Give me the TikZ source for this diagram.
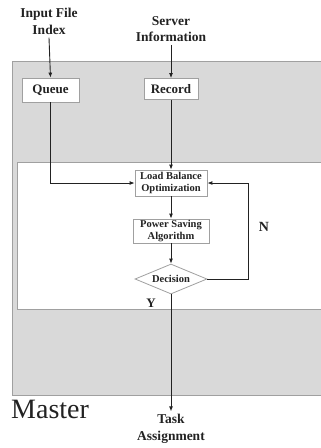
\documentclass[tikz,border=0pt]{standalone}
\usepackage{fontspec}
\setmainfont{Liberation Serif}
\usetikzlibrary{shapes.geometric,arrows.meta}
\definecolor{panel}{HTML}{D9D9D9}
\definecolor{edge}{HTML}{A0A0A0}
\definecolor{ink}{HTML}{222222}
\begin{document}
\begin{tikzpicture}[x=1pt,y=-1pt,
  lbl/.style={font=\fontsize{13.5}{16.5}\selectfont\bfseries,align=center,inner sep=3pt,text=ink},
  bigbox/.style={draw=edge,fill=white,line width=0.8pt,inner sep=0pt,font=\fontsize{13}{15}\selectfont\bfseries,text=ink},
  smallbox/.style={draw=edge,fill=white,line width=0.8pt,inner sep=0pt,align=center,font=\fontsize{10.5}{12.5}\selectfont\bfseries,text=ink},
  conn/.style={draw=ink,line width=0.9pt},
  arr/.style={conn,-{Latex[length=5pt,width=4pt]}}]
\useasboundingbox (0,0) rectangle (321,448);
% outer Master panel
\fill[panel] (12,61) rectangle (321,395);
\draw[edge,line width=0.9pt] (321,61) -- (12,61) -- (12,395) -- (321,395);
% inner white panel
\fill[white] (17,162) rectangle (321,309);
\draw[edge,line width=0.9pt] (321,162) -- (17,162) -- (17,309) -- (321,309);
% labels
\node[lbl] (in) at (49,21.5) {Input File\\Index};
\node[lbl] (srv) at (171,29) {Server\\Information};
\node[lbl] (task) at (171,429) {Task\\Assignment};
\node[anchor=west,inner sep=0pt,font=\fontsize{28}{30}\selectfont,text=ink] (master) at (11,409) {Master};
% boxes
\node[bigbox,minimum width=57pt,minimum height=24pt] (queue) at (50.5,90) {Queue};
\node[bigbox,minimum width=54pt,minimum height=21pt] (rec) at (171,89) {Record};
\node[smallbox,minimum width=72pt,minimum height=26pt] (lb) at (171,183) {Load Balance\\Optimization};
\node[smallbox,minimum width=76pt,minimum height=24pt] (ps) at (171,231) {Power Saving\\Algorithm};
\node[smallbox,diamond,aspect=2.4,minimum width=72pt,minimum height=30pt] (dec) at (171,279) {Decision};
\node[font=\fontsize{14}{16}\selectfont\bfseries,text=ink,inner sep=0pt] (n) at (264,227) {N};
\node[font=\fontsize{13}{15}\selectfont\bfseries,text=ink,inner sep=0pt] (y) at (151,303) {Y};
% connectors
\draw[arr] (in.south) -- (queue.north);
\draw[arr] (srv.south) -- (rec.north);
\draw[arr] (queue.south) |- (lb.west);
\draw[arr] (rec.south) -- (lb.north);
\draw[arr] (lb.south) -- (ps.north);
\draw[arr] (ps.south) -- (dec.north);
\coordinate (nturn) at (248,279);
\draw[arr] (dec.east) -- (nturn) |- (lb.east);
\draw[arr] (dec.south) -- (task.north);
\end{tikzpicture}
\end{document}
